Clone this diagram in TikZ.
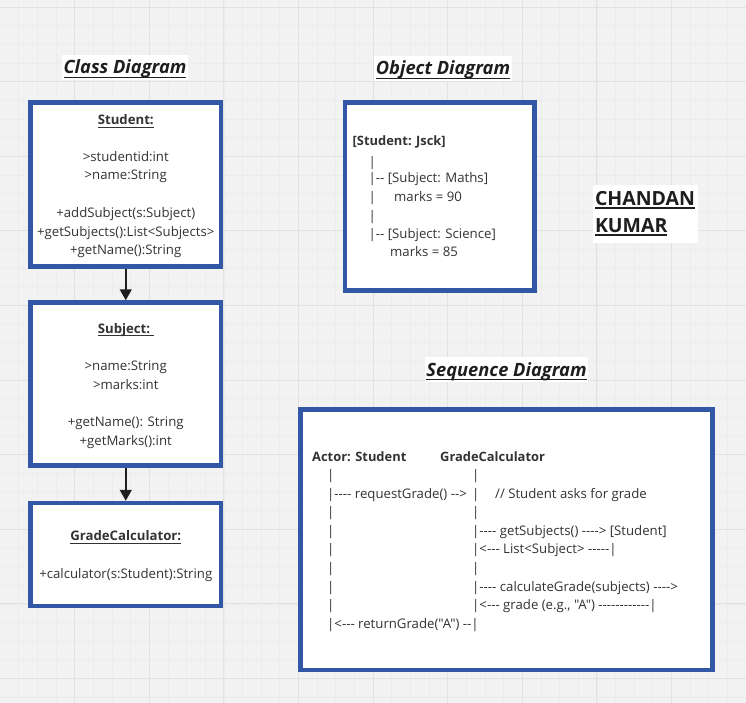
\documentclass[tikz,border=0pt]{standalone}
\usepackage{fontspec}
\setmainfont{Open Sans}[Ligatures=TeXOff]
\usetikzlibrary{arrows.meta}
\definecolor{boxblue}{RGB}{50,87,166}
\definecolor{bgc}{RGB}{242,242,242}
\definecolor{gridmaj}{RGB}{226,226,226}
\definecolor{gridmin}{RGB}{236,236,236}
\definecolor{txt}{RGB}{51,51,51}
\definecolor{ink}{RGB}{30,30,30}
\newcommand{\myul}[3]{\leavevmode\setbox0\hbox{#3}\rlap{\vrule height \dimexpr #1-#2\relax depth #2 width \wd0}\box0}
\newcommand{\ulthin}[1]{\myul{0.9pt}{2.8pt}{#1}}
\newcommand{\ultitle}[1]{\myul{1.4pt}{4.2pt}{#1}}
\newcommand{\ulthick}[1]{\myul{2.2pt}{3.2pt}{#1}}
\tikzset{
  umlbox/.style={draw=boxblue, line width=4.5pt, fill=white, inner sep=0pt, rectangle},
  ctext/.style={anchor=base, inner sep=0pt, text=txt, font=\fontsize{13.2}{15}\selectfont},
  ltext/.style={anchor=base west, inner sep=0pt, text=txt, font=\fontsize{13.2}{15}\selectfont},
  btext/.style={ltext, font=\fontsize{12.9}{15}\selectfont\bfseries},
  titletext/.style={anchor=base, fill=white, inner xsep=1.5pt, inner ysep=2pt, text height=17pt, text depth=4pt, text=ink, font=\fontsize{18.3}{20}\selectfont\bfseries\itshape},
  flow/.style={draw=ink, line width=1.5pt, -{Triangle[width=12pt,length=11pt]}},
}
\begin{document}
\begin{tikzpicture}[x=1pt,y=-1pt]
\useasboundingbox (0,0) rectangle (746,703);
% background and grid
\fill[bgc] (0,0) rectangle (746,703);
\foreach \k in {1,...,40} \draw[gridmin, line width=0.6pt] (\k*18.65,0) -- (\k*18.65,703);
\foreach \k in {0,...,37} \draw[gridmin, line width=0.6pt] (0,7+\k*18.65) -- (746,7+\k*18.65);
\foreach \k in {1,...,10} \draw[gridmaj, line width=0.9pt] (\k*74.6,0) -- (\k*74.6,703);
\foreach \k in {0,...,9} \draw[gridmaj, line width=0.9pt] (0,7+\k*74.6) -- (746,7+\k*74.6);

% titles
\node[titletext] (t1) at (125,74) {\ultitle{Class Diagram}};
\node[titletext] (t2) at (443,75) {\ultitle{Object Diagram}};
\node[titletext] (t3) at (506.5,376) {\ultitle{Sequence Diagram}};

% class boxes
\node[umlbox, minimum width=190.5pt, minimum height=164pt] (student) at (125.75,184.5) {};
\node[umlbox, minimum width=190.5pt, minimum height=163pt] (subject) at (125.75,384) {};
\node[umlbox, minimum width=190.5pt, minimum height=103pt] (gc) at (125.75,554.5) {};
\draw[flow] (student.south) -- (subject.north);
\draw[flow] (subject.south) -- (gc.north);

\node[ctext] (s0) at (125.75,125) {\bfseries\ulthin{Student:}};
\node[ctext] (s1) at (125.75,161.7) {>studentid:int};
\node[ctext] (s2) at (125.75,180) {>name:String};
\node[ctext] (s3) at (125.75,218) {+addSubject(s:Subject)};
\node[ctext] (s4) at (125.75,236.7) {+getSubjects():List<Subjects>};
\node[ctext] (s5) at (125.75,254.5) {+getName():String};

\node[ctext] (j0) at (125.75,333) {\bfseries\ulthin{Subject:\ }};
\node[ctext] (j1) at (125.75,370.7) {>name:String};
\node[ctext] (j2) at (125.75,389) {>marks:int};
\node[ctext] (j3) at (125.75,426.7) {+getName(): String};
\node[ctext] (j4) at (125.75,445) {+getMarks():int};

\node[ctext] (g0) at (125.75,540.7) {\bfseries\ulthin{GradeCalculator:}};
\node[ctext] (g1) at (125.75,578) {+calculator(s:Student):String};

% object diagram
\node[umlbox, minimum width=189.5pt, minimum height=188pt] (obj) at (439.75,196.5) {};
\node[btext] (o0) at (352.5,146) {[Student: Jsck]};
\node[ltext] (o1) at (368.5,166.7) {|};
\node[ltext] (o2) at (368.5,183) {|-- [Subject: Maths]};
\node[ltext] (o3) at (368.5,201.7) {|};
\node[ltext] (o4) at (394,201.7) {marks = 90};
\node[ltext] (o5) at (368.5,221) {|};
\node[ltext] (o6) at (368.5,239) {|-- [Subject: Science]};
\node[ltext] (o7) at (390,256.7) {marks = 85};

% name
\node[anchor=center, fill=white, inner xsep=2.5pt, inner ysep=7pt, align=left, text=ink,
      font=\fontsize{19.5}{27}\selectfont\bfseries] (name) at (645,214) {\ulthick{CHANDAN}\\\ulthick{KUMAR}};

% sequence diagram
\node[umlbox, minimum width=412pt, minimum height=260.5pt] (seq) at (506.5,539.75) {};
\node[btext] (a0) at (312,461) {Actor: Student};
\node[btext] (a1) at (440,461) {GradeCalculator};

\node[ltext] (l0) at (327,479.5) {|};
\node[ltext] (r0) at (472,479.5) {|};
\node[ltext] (l1) at (327,498.1) {|---- requestGrade() -->};
\node[ltext] (r1) at (472,498.1) {|};
\node[ltext] (c1) at (495,498.1) {// Student asks for grade};
\node[ltext] (l2) at (327,516.7) {|};
\node[ltext] (r2) at (472,516.7) {|};
\node[ltext] (l3) at (327,535.3) {|};
\node[ltext] (r3) at (472,535.3) {|---- getSubjects() ----> [Student]};
\node[ltext] (l4) at (327,553.9) {|};
\node[ltext] (r4) at (472,553.9) {|<--- List<Subject> -----|};
\node[ltext] (l5) at (327,572.5) {|};
\node[ltext] (r5) at (472,572.5) {|};
\node[ltext] (l6) at (327,591.1) {|};
\node[ltext] (r6) at (472,591.1) {|---- calculateGrade(subjects) ---->};
\node[ltext] (l7) at (327,609.7) {|};
\node[ltext] (r7) at (472,609.7) {|<--- grade (e.g., "A") ------------|};
\node[ltext] (l8) at (327,628.3) {|<--- returnGrade("A") --|};
\end{tikzpicture}
\end{document}
